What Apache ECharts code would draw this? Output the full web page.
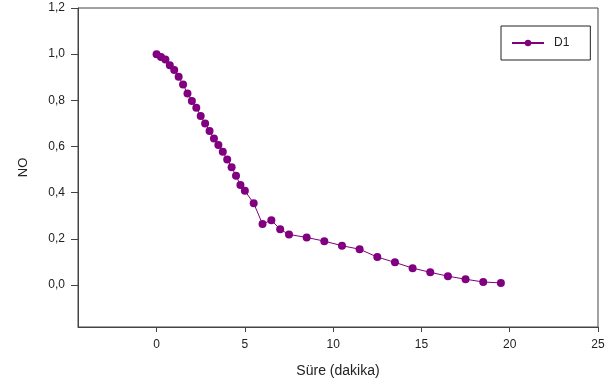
<!DOCTYPE html>
<html>
<head>
<meta charset="utf-8">
<script src="https://cdn.jsdelivr.net/npm/echarts@6/dist/echarts.min.js"></script>
<style>
  html, body { margin: 0; padding: 0; background: #fff; }
  #chart { width: 616px; height: 387px; }
</style>
</head>
<body>
<div id="chart"></div>
<script>
// time in minutes
const times = [
  0, 0.25, 0.5, 0.75, 1, 1.25, 1.5, 1.75, 2, 2.25, 2.5, 2.75, 3, 3.25, 3.5,
  3.75, 4, 4.25, 4.5, 4.75, 5, 5.5, 6, 6.5, 7, 7.5, 8.5, 9.5, 10.5, 11.5,
  12.5, 13.5, 14.5, 15.5, 16.5, 17.5, 18.5, 19.5
];
// NO (D1)
const d1 = [
  1.0, 0.988, 0.977, 0.952, 0.931, 0.902, 0.869, 0.830, 0.797, 0.768, 0.732,
  0.700, 0.667, 0.635, 0.606, 0.577, 0.544, 0.510, 0.473, 0.433, 0.408,
  0.354, 0.264, 0.281, 0.241, 0.219, 0.206, 0.190, 0.170, 0.155, 0.121,
  0.098, 0.073, 0.055, 0.038, 0.025, 0.013, 0.009
];
const xTicks = [0, 5, 10, 15, 20, 25];
const yTicks = [0, 0.2, 0.4, 0.6, 0.8, 1.0, 1.2];

const axisColor = '#444';
const textColor = '#222';
const font = 'Liberation Sans, Arial, sans-serif';

const chart = echarts.init(document.getElementById('chart'), null, { renderer: 'canvas' });
chart.setOption({
  animation: false,
  backgroundColor: '#fff',
  textStyle: { fontFamily: font },
  grid: {
    left: 78, right: 18, top: 8, bottom: 60,
    show: true, borderColor: axisColor, borderWidth: 1
  },
  legend: {
    left: 501, top: 26,
    padding: [11, 21, 11, 10],
    borderColor: textColor, borderWidth: 1,
    itemWidth: 32, itemHeight: 8,
    textStyle: { fontSize: 12, color: textColor, fontFamily: font, padding: [0, 0, 0, 5] },
    data: ['D1']
  },
  xAxis: {
    type: 'value',
    min: -4.45, max: 25,
    name: 'Süre (dakika)',
    nameLocation: 'middle',
    nameGap: 37,
    nameTextStyle: { fontSize: 14, color: textColor },
    axisLine: { onZero: false, lineStyle: { color: axisColor } },
    axisTick: { show: true, inside: false, length: 5, customValues: xTicks, lineStyle: { color: axisColor } },
    axisLabel: { customValues: xTicks, fontSize: 12, color: textColor, margin: 12 },
    splitLine: { show: false }
  },
  yAxis: {
    type: 'value',
    min: -0.182, max: 1.2,
    name: 'NO',
    nameLocation: 'middle',
    nameGap: 48,
    nameTextStyle: { fontSize: 13, color: textColor },
    axisLine: { show: true, onZero: false, lineStyle: { color: axisColor } },
    axisTick: { show: true, inside: false, length: 7, customValues: yTicks, lineStyle: { color: axisColor } },
    axisLabel: {
      customValues: yTicks, fontSize: 12, color: textColor, margin: 13,
      formatter: v => v.toFixed(1).replace('.', ',')
    },
    splitLine: { show: false }
  },
  series: [{
    name: 'D1',
    type: 'line',
    data: times.map((t, i) => [t, d1[i]]),
    symbol: 'circle',
    symbolSize: 8,
    showAllSymbol: true,
    color: '#800080',
    lineStyle: { width: 1, color: '#800080' },
    itemStyle: { color: '#800080' }
  }]
});
</script>
</body>
</html>
